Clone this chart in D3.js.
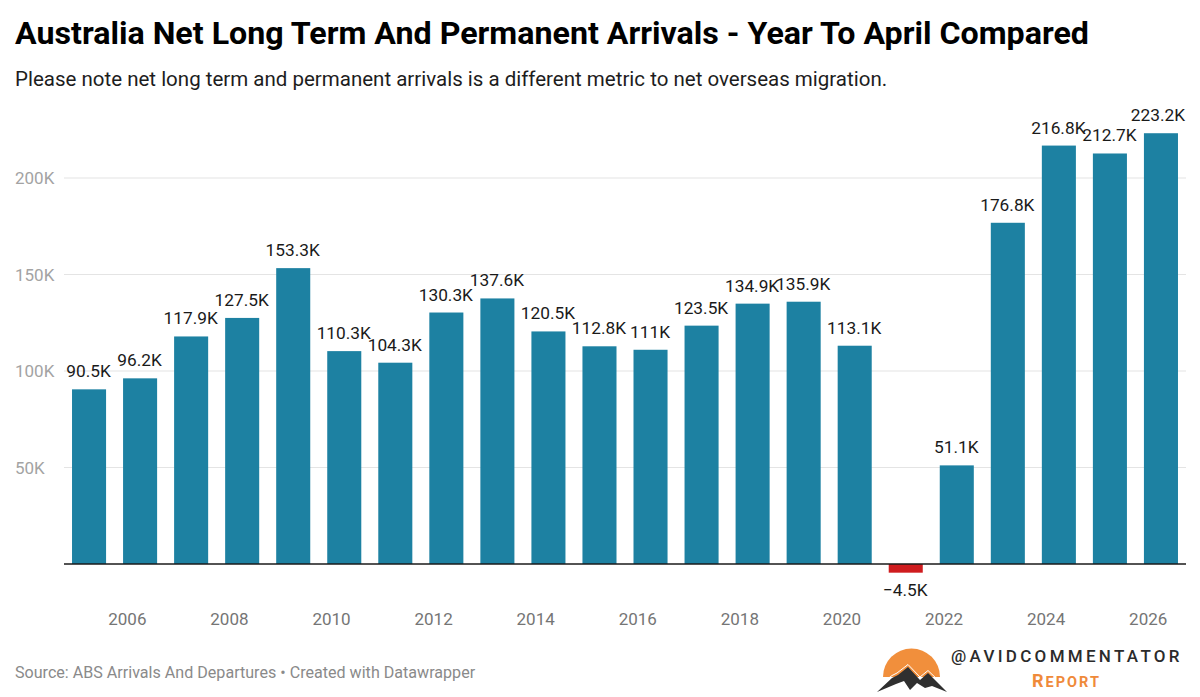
<!DOCTYPE html>
<html>
<head>
<meta charset="utf-8">
<script src="https://cdn.jsdelivr.net/npm/d3@7"></script>
<style>
  html, body { margin: 0; padding: 0; background: #fff; }
  text { font-family: Roboto, sans-serif; }
</style>
</head>
<body>
<div id="chart"></div>
<script>
const years = [2005, 2006, 2007, 2008, 2009, 2010, 2011, 2012, 2013, 2014, 2015,
  2016, 2017, 2018, 2019, 2020, 2021, 2022, 2023, 2024, 2025, 2026];
const values = [90.5, 96.2, 117.9, 127.5, 153.3, 110.3, 104.3, 130.3, 137.6, 120.5, 112.8,
  111, 123.5, 134.9, 135.9, 113.1, -4.5, 51.1, 176.8, 216.8, 212.7, 223.2];
const yTicks = [50, 100, 150, 200];
const xTicks = [2006, 2008, 2010, 2012, 2014, 2016, 2018, 2020, 2022, 2024, 2026];

const width = 1200;
const height = 697;

const svg = d3.select("#chart").append("svg")
  .attr("width", width)
  .attr("height", height)
  .style("display", "block");

const x = d3.scaleBand()
  .domain(years)
  .range([63.5, 1186.5])
  .paddingInner(0.333)
  .paddingOuter(0.167);

const y = d3.scaleLinear()
  .domain([0, 200])
  .range([564, 178]);

// title
svg.append("text")
  .attr("x", 15).attr("y", 44)
  .attr("font-size", 32.2).attr("font-weight", 700).attr("fill", "#000")
  .text("Australia Net Long Term And Permanent Arrivals - Year To April Compared");

svg.append("text")
  .attr("x", 15).attr("y", 86)
  .attr("font-size", 20.5).attr("fill", "#1d1d1d")
  .text("Please note net long term and permanent arrivals is a different metric to net overseas migration.");

// grid
svg.selectAll(".grid")
  .data(yTicks)
  .enter()
  .append("line")
  .attr("class", "grid")
  .attr("x1", 64).attr("x2", 1186)
  .attr("y1", d => y(d)).attr("y2", d => y(d))
  .attr("stroke", "#e4e4e4").attr("stroke-width", 1.2);

svg.selectAll(".ytick")
  .data(yTicks)
  .enter()
  .append("text")
  .attr("class", "ytick")
  .attr("x", 15)
  .attr("y", d => y(d) + 6)
  .attr("font-size", 17).attr("fill", "#a3a3a3")
  .text(d => d + "K");

// bars
svg.selectAll(".bar")
  .data(values)
  .enter()
  .append("rect")
  .attr("class", "bar")
  .attr("x", (d, i) => x(years[i]))
  .attr("width", x.bandwidth())
  .attr("y", d => y(Math.max(0, d)))
  .attr("height", d => Math.abs(y(d) - y(0)))
  .attr("fill", d => d < 0 ? "#cf1c1f" : "#1d81a2");

// baseline
svg.append("line")
  .attr("x1", 64).attr("x2", 1186)
  .attr("y1", y(0)).attr("y2", y(0))
  .attr("stroke", "#1a1a1a").attr("stroke-width", 1.5);

// value labels, kept inside the right edge of the chart
svg.selectAll(".label")
  .data(values)
  .enter()
  .append("text")
  .attr("class", "label")
  .attr("y", d => d < 0 ? y(d) + 23 : y(d) - 12)
  .attr("text-anchor", "middle")
  .attr("font-size", 17.3).attr("fill", "#1a1a1a")
  .text(d => (d < 0 ? "\u2212" + Math.abs(d) : d) + "K")
  .attr("x", function (d, i) {
    let center = x(years[i]) + x.bandwidth() / 2 - 0.5;
    return Math.min(center, 1185 - this.getComputedTextLength() / 2);
  });

// x axis labels sit left of their bar
svg.selectAll(".xtick")
  .data(xTicks)
  .enter()
  .append("text")
  .attr("class", "xtick")
  .attr("x", d => x(d) + x.bandwidth() / 2 - 12.75)
  .attr("y", 625)
  .attr("text-anchor", "middle")
  .attr("font-size", 17).attr("fill", "#757575")
  .text(d => d);

// footer
svg.append("text")
  .attr("x", 15).attr("y", 678)
  .attr("font-size", 16.1).attr("fill", "#8a8a8a")
  .text("Source: ABS Arrivals And Departures \u2022 Created with Datawrapper");

// logo
const logo = svg.append("g");
logo.append("path")
  .attr("d", "M883,677 A28.5,28.5 0 1 1 940,677 Z")
  .attr("fill", "#f18f3c");
logo.append("path")
  .attr("d", "M877,692 L892,678 L898,675 L908,667 L920,680 L928,673 L947,692 L932,686 L925,688 L917,683 L910,690 L904,681 L896,684 Z")
  .attr("fill", "#2f2f2f");
logo.append("path")
  .attr("d", "M886,680 L892,675.5 L897,673 L908,664.5 L920,677 L928,670.5 L938,680")
  .attr("fill", "none")
  .attr("stroke", "#fff").attr("stroke-width", 1);

svg.append("text")
  .attr("x", 951).attr("y", 662)
  .attr("font-size", 17).attr("font-weight", 500).attr("letter-spacing", 3.3).attr("fill", "#2b2b2b")
  .text("@AVIDCOMMENTATOR");

const report = svg.append("text")
  .attr("x", 1032).attr("y", 687)
  .attr("font-weight", 700).attr("letter-spacing", 2).attr("fill", "#ef8a3a");
report.append("tspan").attr("font-size", 18).text("R");
report.append("tspan").attr("font-size", 14.5).text("EPORT");
</script>
</body>
</html>
